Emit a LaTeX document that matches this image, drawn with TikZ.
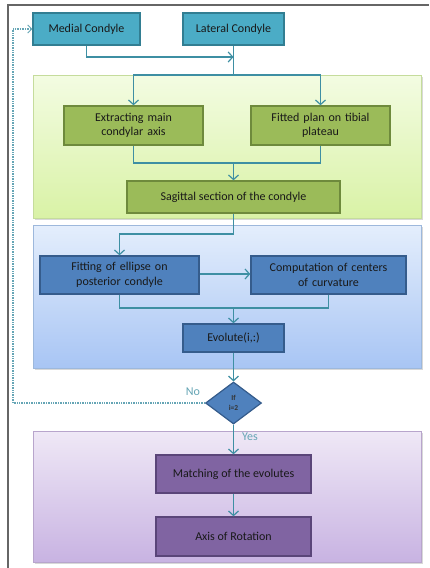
\documentclass[tikz,border=0pt]{standalone}
\usepackage{fontspec}
\setmainfont{Carlito}
\usetikzlibrary{arrows.meta,shapes.geometric,shadows}
\definecolor{conn}{HTML}{3E8FA3}
\definecolor{tealf}{HTML}{4BACC6}\definecolor{teald}{HTML}{327E92}
\definecolor{greenf}{HTML}{9BBB59}\definecolor{greend}{HTML}{6E8A3C}
\definecolor{bluef}{HTML}{4F81BD}\definecolor{blued}{HTML}{355C8C}
\definecolor{purpf}{HTML}{8064A2}\definecolor{purpd}{HTML}{5A4579}
\definecolor{gtop}{HTML}{F3FCE2}\definecolor{gbot}{HTML}{D9F2A6}\definecolor{gbrd}{HTML}{C5DC9C}
\definecolor{btop}{HTML}{E4EEFC}\definecolor{bbot}{HTML}{A8C5F4}\definecolor{bbrd}{HTML}{9DB8DC}
\definecolor{ptop}{HTML}{EFE8F6}\definecolor{pbot}{HTML}{C8B3E2}\definecolor{pbrd}{HTML}{B8A5CC}
\tikzset{
  box/.style={draw, line width=1.4pt, align=center, font=\fontsize{12}{14.5}\selectfont, text=black!90, inner sep=2pt,
     drop shadow={opacity=0.25, shadow xshift=1pt, shadow yshift=-1.2pt}},
  tealbox/.style={box, fill=tealf, draw=teald},
  greenbox/.style={box, fill=greenf, draw=greend},
  bluebox/.style={box, fill=bluef, draw=blued},
  purpbox/.style={box, fill=purpf, draw=purpd},
  panel/.style={line width=0.8pt, drop shadow={opacity=0.3, shadow xshift=1.5pt, shadow yshift=-1.5pt}},
  cn/.style={draw=conn, line width=1.3pt},
  arr/.style={cn, -{Straight Barb[length=4.5pt,width=10pt,line width=1.2pt]}},
  lbl/.style={text=conn!80!white, font=\fontsize{12}{14}\selectfont}
}
\begin{document}
\begin{tikzpicture}[x=1pt,y=-1pt]
\useasboundingbox (0,0) rectangle (429,568);
\fill[white] (0,0) rectangle (429,568);
% outer frame
\draw[gray!80!black, line width=1.5pt] (8,568) -- (8,5) -- (429,5);
% panels
\path[panel, draw=gbrd, top color=gtop, bottom color=gbot] (33,75) rectangle (421,218);
\path[panel, draw=bbrd, top color=btop, bottom color=bbot] (33,225) rectangle (421,368);
\path[panel, draw=pbrd, top color=ptop, bottom color=pbot] (33,431) rectangle (421,562);
% nodes
\node[tealbox, minimum width=107pt, minimum height=32pt] (med) at (86.5,29) {Medial Condyle};
\node[tealbox, minimum width=101pt, minimum height=32pt] (lat) at (233.5,29) {Lateral Condyle};
\node[greenbox, minimum width=139pt, minimum height=39pt, text width=134pt] (ext) at (133.5,125.5) {Extracting main\\condylar axis};
\node[greenbox, minimum width=139pt, minimum height=39pt, text width=134pt] (fit) at (320.5,125.5) {Fitted plan on tibial\\plateau};
\node[greenbox, minimum width=213pt, minimum height=32pt] (sag) at (233.5,197) {Sagittal section of the condyle};
\node[bluebox, minimum width=159pt, minimum height=38pt, text width=154pt] (ell) at (119.5,275) {Fitting of ellipse on\\posterior condyle};
\node[bluebox, minimum width=155pt, minimum height=38pt, text width=150pt] (cur) at (328.5,275) {Computation of centers\\of curvature};
\node[bluebox, minimum width=101pt, minimum height=28pt] (evo) at (233.5,338) {Evolute(i,:)};
\node[diamond, draw=blued, fill=bluef, line width=1.2pt, minimum width=56pt, minimum height=42pt, inner sep=0pt,
      align=center, font=\bfseries\fontsize{7.5}{9.5}\selectfont, text=black!80] (dec) at (233.5,403) {If\\i=2};
\node[purpbox, minimum width=155pt, minimum height=38pt] (mat) at (233.5,474) {Matching of the evolutes};
\node[purpbox, minimum width=155pt, minimum height=39pt] (axr) at (233.5,536.5) {Axis of Rotation};
% junction coordinates
\coordinate (j1) at (lat.south |- 0,57);
\coordinate (j2) at (lat.south |- 0,75);
\coordinate (j3) at (sag.north |- 0,163);
\coordinate (j4) at (sag.south |- 0,234);
\coordinate (j5) at (evo.north |- 0,308);
\coordinate (j6) at (13,403);
% connectors
\draw[arr] (med.south) |- (j1);
\draw[cn] (lat.south) -- (j2);
\draw[arr] (j2) -| (ext.north);
\draw[arr] (j2) -| (fit.north);
\draw[cn] (ext.south) |- (j3);
\draw[cn] (fit.south) |- (j3);
\draw[arr] (j3) -- (sag.north);
\draw[cn] (sag.south) -- (j4);
\draw[arr] (j4) -| (ell.north);
\draw[arr] (ell.east |- 0,274) -- (cur.west |- 0,274);
\draw[cn] (ell.south) |- (j5);
\draw[cn] (cur.south) |- (j5);
\draw[arr] (j5) -- (evo.north);
\draw[arr] (evo.south) -- (dec.north);
\draw[arr] (dec.south) -- (mat.north);
\draw[arr] (mat.south) -- (axr.north);
\draw[draw=conn!80!white, line width=1.1pt, dash pattern=on 0.8pt off 0.9pt, -{Straight Barb[length=4pt,width=8pt,line width=0.9pt]}] (dec.west) -- (j6) |- (med.west);
% labels
\node[lbl] (no) at (193,392) {No};
\node[lbl] (yes) at (250,437) {Yes};
\end{tikzpicture}
\end{document}
